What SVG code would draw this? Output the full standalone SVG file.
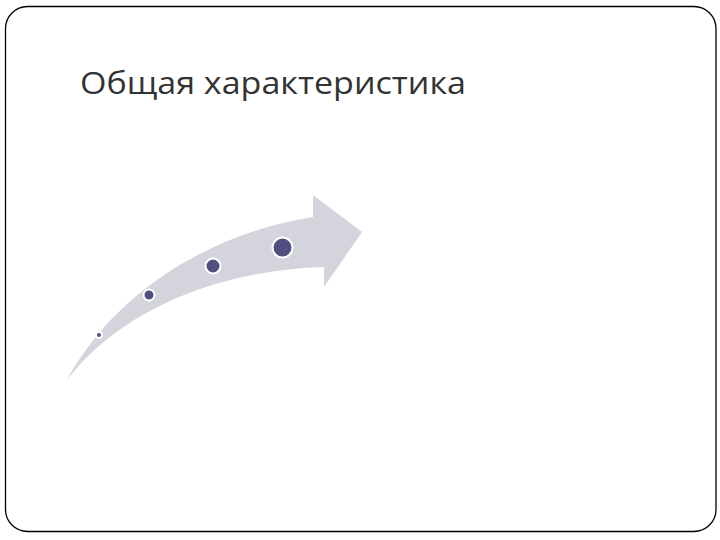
<svg xmlns="http://www.w3.org/2000/svg" width="720" height="540" viewBox="0 0 720 540">
<style>
.title{font-family:"Open Sans","Noto Sans","Liberation Sans",sans-serif;font-size:31px;fill:#333333}
.dot{fill:#4f4f82;stroke:#ffffff;stroke-width:2}
</style>
<rect x="0" y="0" width="720" height="540" fill="#ffffff"/>
<g id="frame">
<rect x="5.5" y="6.5" width="710.5" height="525" rx="22" ry="22" fill="none" stroke="#000000" stroke-width="1.3"/>
</g>
<g id="title">
<text class="title" x="80" y="94" textLength="386" lengthAdjust="spacingAndGlyphs">Общая характеристика</text>
</g>
<g id="arrow">
<path d="M67,380 C110,300 200,235 313,217 L313,195 L362,232 L324,287 L324,267 C220,270 120,310 67,380 Z" fill="#d4d4dd"/>
</g>
<g id="dots">
<circle class="dot" cx="99" cy="335" r="3"/>
<circle class="dot" cx="149" cy="295" r="5.5"/>
<circle class="dot" cx="213" cy="266" r="7.5"/>
<circle class="dot" cx="282.5" cy="247.5" r="10"/>
</g>
</svg>
